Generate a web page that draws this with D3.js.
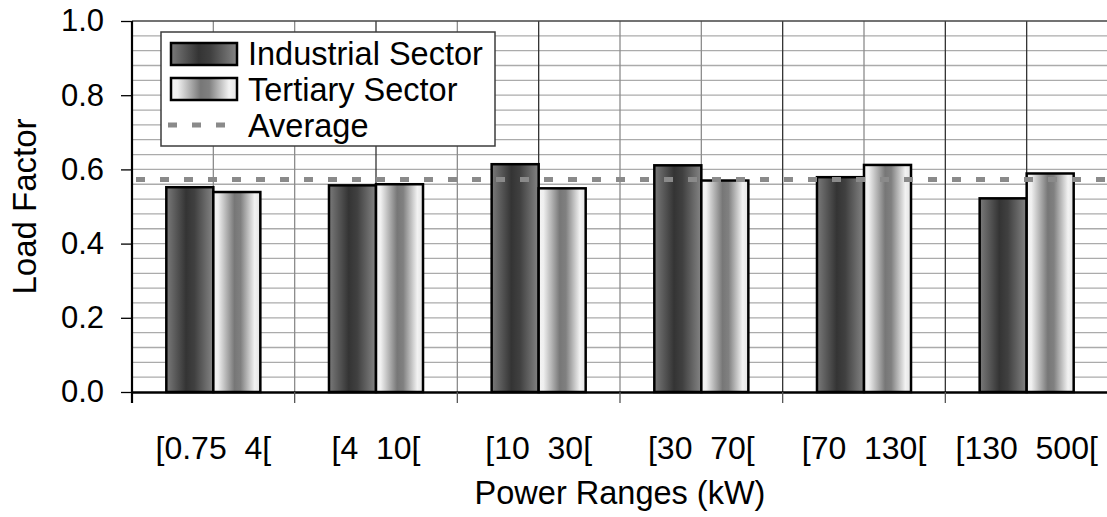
<!DOCTYPE html>
<html>
<head>
<meta charset="utf-8">
<script src="https://cdn.jsdelivr.net/npm/d3@7"></script>
<style>
  body { margin: 0; background: #fff; }
  text { font-family: "Liberation Sans", Arial, sans-serif; fill: #000; }
</style>
</head>
<body>
<script>
var W = 1107, H = 517;
var margin = {top: 21, right: -1, bottom: 125, left: 132}
  , width = W - margin.left - margin.right
  , height = H - margin.top - margin.bottom;

// data
var categories = ["[0.75  4[", "[4  10[", "[10  30[", "[30  70[", "[70  130[", "[130  500["];
var seriesNames = ["Industrial Sector", "Tertiary Sector"];
var industrial = [0.552, 0.557, 0.614, 0.611, 0.579, 0.522];
var tertiary = [0.539, 0.560, 0.549, 0.570, 0.612, 0.589];
var average = 0.573;
var yTicks = [0, 0.2, 0.4, 0.6, 0.8, 1.0];

var svg = d3.select("body").append("svg")
    .attr("width", W)
    .attr("height", H);

var defs = svg.append("defs");
function addGradient(id, stops) {
    var g = defs.append("linearGradient").attr("id", id)
        .attr("x1", "0%").attr("x2", "100%").attr("y1", "0%").attr("y2", "0%");
    stops.forEach(function(s) {
        g.append("stop").attr("offset", s[0]).attr("stop-color", s[1]);
    });
}
addGradient("gradInd", [["0%", "#7a7a7a"], ["42%", "#343434"], ["60%", "#404040"], ["100%", "#858585"]]);
addGradient("gradTer", [["0%", "#f4f4f4"], ["10%", "#f0f0f0"], ["45%", "#777777"], ["58%", "#808080"], ["88%", "#f2f2f2"], ["100%", "#e4e4e4"]]);
var fills = ["url(#gradInd)", "url(#gradTer)"];

var g = svg.append("g")
    .attr("transform", "translate(" + margin.left + "," + margin.top + ")");

var x = d3.scaleBand().domain(categories).range([0, width]).padding(0);
var xs = d3.scaleBand().domain(seriesNames).range([0, x.bandwidth()])
    .paddingInner(0).paddingOuter(0.73);
var y = d3.scaleLinear().domain([0, 1]).range([height, 0]);

// horizontal grid (every 0.04)
g.append("g").selectAll("line")
    .data(d3.range(1, 25).map(function(i) { return i * 0.04; }))
    .enter().append("line")
    .attr("x1", 0).attr("x2", width)
    .attr("y1", function(d) { return y(d); })
    .attr("y2", function(d) { return y(d); })
    .attr("stroke", "#ababab")
    .attr("stroke-width", 1.3);

// vertical grid at category edges and centres (some print darker in the scan)
var vLines = [];
categories.forEach(function(c) {
    vLines.push(x(c));
    vLines.push(x(c) + x.bandwidth() / 2);
});
var darkLines = [3, 5, 8, 10, 11];
g.append("g").selectAll("line")
    .data(vLines.slice(1))
    .enter().append("line")
    .attr("x1", function(d) { return d; })
    .attr("x2", function(d) { return d; })
    .attr("y1", 0).attr("y2", height)
    .attr("stroke", function(d, i) { return darkLines.indexOf(i + 1) >= 0 ? "#333" : "#8c8c8c"; })
    .attr("stroke-width", 1.3);

// top border
g.append("line")
    .attr("x1", 0).attr("x2", width).attr("y1", 0).attr("y2", 0)
    .attr("stroke", "#444").attr("stroke-width", 1.5);

// bars
var rows = categories.map(function(c, i) {
    return {cat: c, vals: [industrial[i], tertiary[i]]};
});
var groups = g.append("g").selectAll("g")
    .data(rows)
    .enter().append("g")
    .attr("transform", function(d) { return "translate(" + x(d.cat) + ",0)"; });
groups.selectAll("rect")
    .data(function(d) { return d.vals.map(function(v, i) { return {s: seriesNames[i], v: v, i: i}; }); })
    .enter().append("rect")
    .attr("x", function(d) { return xs(d.s); })
    .attr("y", function(d) { return y(d.v); })
    .attr("width", xs.bandwidth())
    .attr("height", function(d) { return y(0) - y(d.v); })
    .attr("fill", function(d) { return fills[d.i]; })
    .attr("stroke", "#000")
    .attr("stroke-width", 2.5);

// average line
g.append("line")
    .attr("x1", 0).attr("x2", width)
    .attr("y1", y(average)).attr("y2", y(average))
    .attr("stroke", "#8a8a8a")
    .attr("stroke-width", 5)
    .attr("stroke-dasharray", "9,15")
    .attr("stroke-dashoffset", -4);

// y axis
var yAxis = g.append("g")
    .call(d3.axisLeft(y).tickValues(yTicks).tickFormat(d3.format(".1f")).tickSize(11).tickPadding(17));
yAxis.select(".domain").attr("stroke", "#000").attr("stroke-width", 2.2).attr("d", "M0,0V" + (height + 11));
yAxis.selectAll(".tick line").attr("stroke", "#000").attr("stroke-width", 1.3);
yAxis.selectAll(".tick text")
    .style("font-size", "31px")
    .style("font-family", "'Liberation Sans', Arial, sans-serif")
    .attr("fill", "#000");

// x axis
var xAxis = g.append("g")
    .attr("transform", "translate(0," + height + ")")
    .call(d3.axisBottom(x).tickSize(0).tickPadding(44));
xAxis.select(".domain").attr("stroke", "#000").attr("stroke-width", 2.5);
xAxis.selectAll(".tick text")
    .style("font-size", "32px")
    .style("white-space", "pre")
    .style("font-family", "'Liberation Sans', Arial, sans-serif")
    .attr("fill", "#000");
g.append("g").selectAll("line")
    .data(categories.slice(1))
    .enter().append("line")
    .attr("x1", function(d) { return x(d); })
    .attr("x2", function(d) { return x(d); })
    .attr("y1", height).attr("y2", height + 11)
    .attr("stroke", "#555").attr("stroke-width", 1.3);

// axis titles
svg.append("text")
    .attr("text-anchor", "middle")
    .attr("transform", "translate(36," + (margin.top + height / 2) + ")rotate(-90)")
    .style("font-size", "33px")
    .text("Load Factor");
svg.append("text")
    .attr("text-anchor", "middle")
    .attr("x", margin.left + width / 2)
    .attr("y", 504)
    .style("font-size", "32.5px")
    .text("Power Ranges (kW)");

// legend
var legend = svg.append("g").attr("transform", "translate(161,32)");
legend.append("rect")
    .attr("width", 334).attr("height", 114)
    .attr("fill", "#fff").attr("stroke", "#3c3c3c").attr("stroke-width", 1.5);
seriesNames.forEach(function(name, i) {
    legend.append("rect")
        .attr("x", 10).attr("y", 11 + i * 35)
        .attr("width", 66).attr("height", 22)
        .attr("fill", fills[i]).attr("stroke", "#000").attr("stroke-width", 2.5);
    legend.append("text")
        .attr("x", 87).attr("y", 33 + i * 35.5)
        .style("font-size", "32.5px")
        .text(name);
});
legend.append("line")
    .attr("x1", 7).attr("x2", 76).attr("y1", 93).attr("y2", 93)
    .attr("stroke", "#8a8a8a").attr("stroke-width", 5)
    .attr("stroke-dasharray", "9,15");
legend.append("text")
    .attr("x", 87).attr("y", 105)
    .style("font-size", "32.5px")
    .text("Average");
</script>
</body>
</html>
